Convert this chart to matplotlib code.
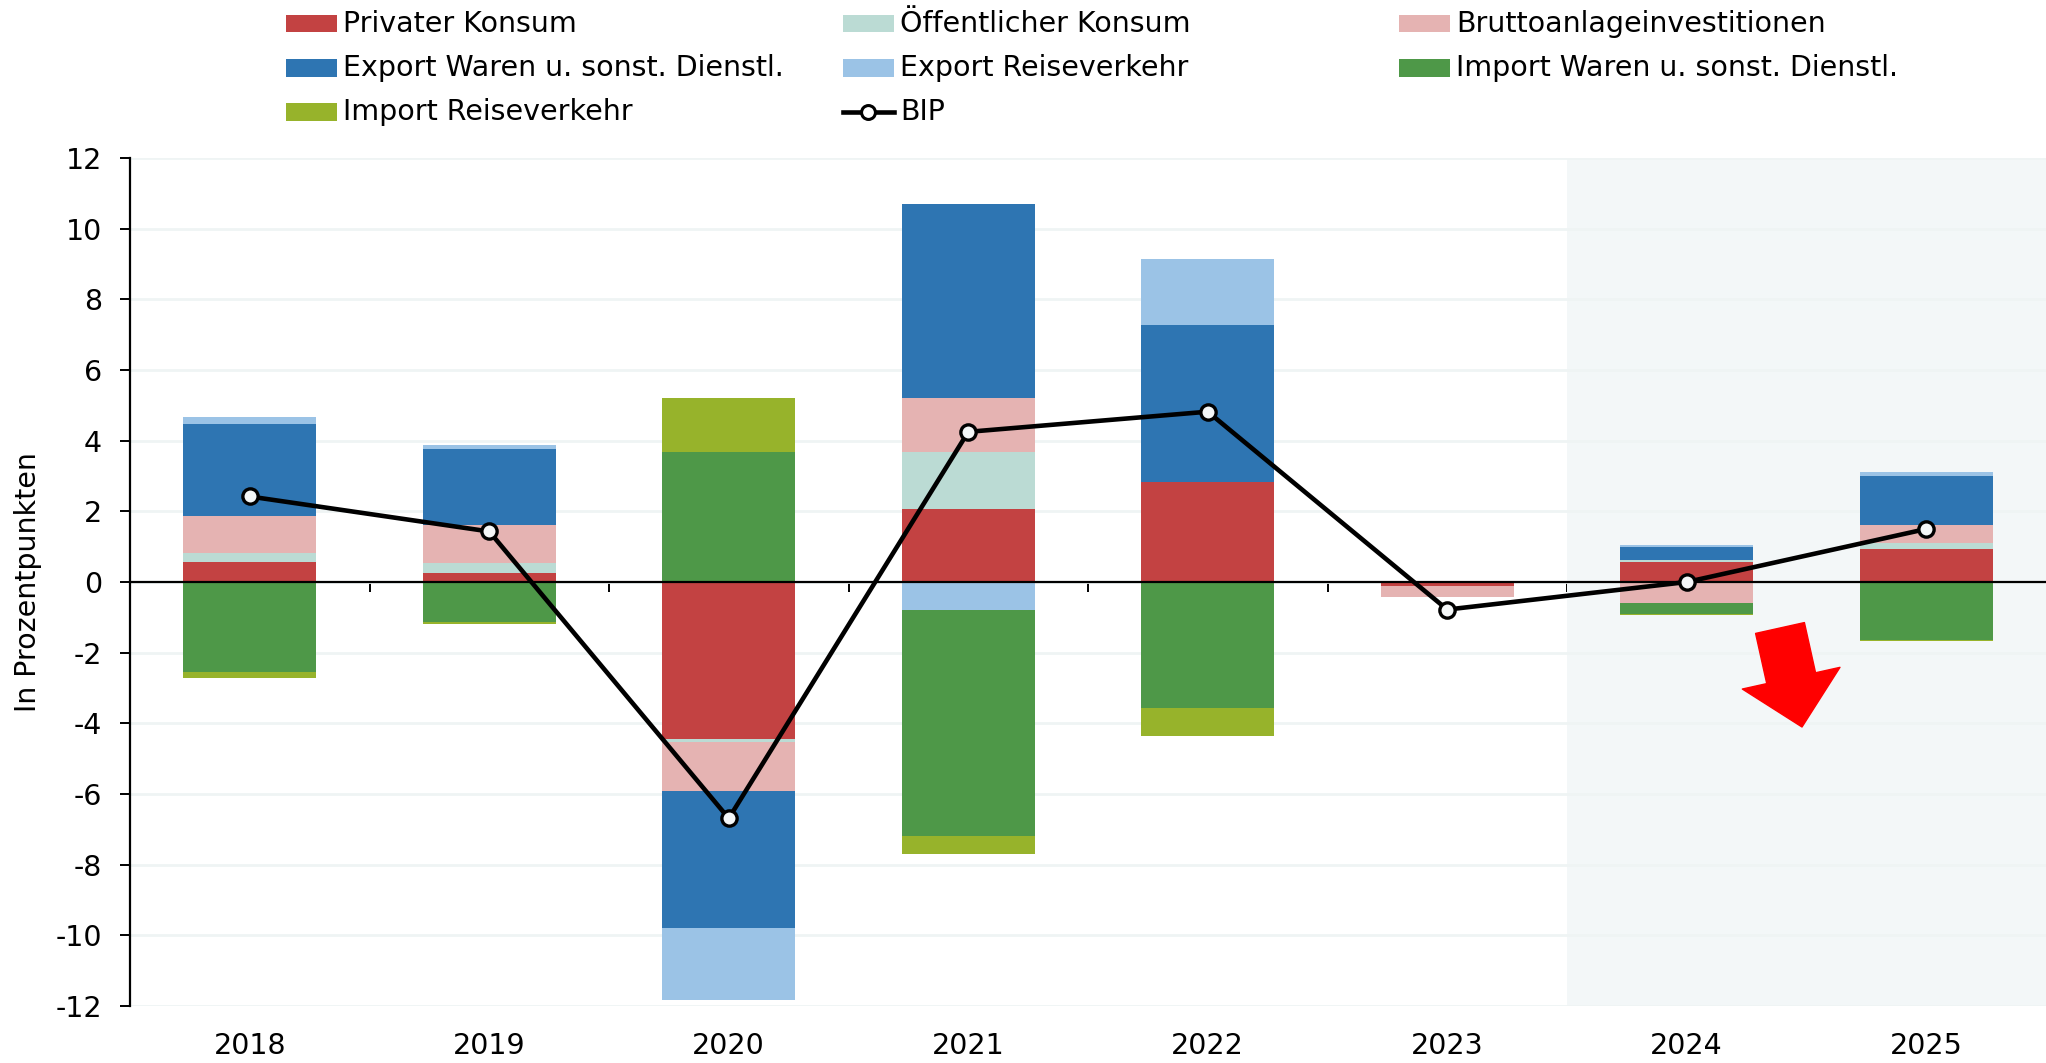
import numpy as np
import matplotlib.pyplot as plt
import matplotlib.patches as mpatches
from matplotlib.lines import Line2D

# === DATA (Wachstumsbeiträge in Prozentpunkten) ===
years = ["2018", "2019", "2020", "2021", "2022", "2023", "2024", "2025"]
privat = [0.58, 0.26, -4.45, 2.06, 2.84, -0.11, 0.56, 0.93]
oeffentlich = [0.24, 0.28, -0.08, 1.61, 0.0, 0.0, 0.07, 0.17]
brutto = [1.04, 1.08, -1.38, 1.53, 0.0, -0.32, -0.60, 0.51]
export_waren = [2.62, 2.15, -3.89, 5.49, 4.44, 0.0, 0.35, 1.40]
export_reise = [0.18, 0.10, -2.02, -0.79, 1.85, 0.0, 0.07, 0.11]
import_waren = [-2.55, -1.13, 3.67, -6.41, -3.56, 0.0, -0.30, -1.65]
import_reise = [-0.18, -0.06, 1.55, -0.51, -0.79, 0.0, -0.03, -0.02]
bip = [2.42, 1.43, -6.69, 4.25, 4.82, -0.78, 0.0, 1.50]

labels = ["Privater Konsum", "Öffentlicher Konsum", "Bruttoanlageinvestitionen",
          "Export Waren u. sonst. Dienstl.", "Export Reiseverkehr",
          "Import Waren u. sonst. Dienstl.", "Import Reiseverkehr"]
colors = ["#c34242", "#bbdbd4", "#e5b3b2", "#2e75b2", "#9bc3e6", "#4e9848", "#97b32b"]
series = [privat, oeffentlich, brutto, export_waren, export_reise, import_waren, import_reise]

forecast_start = 5.5   # Prognosebereich (2024, 2025)

# === STYLE ===
plt.rcParams['font.family'] = ['DejaVu Sans']
plt.rcParams['axes.unicode_minus'] = False
FS = 20.5

W, H = 2046, 1063
fig = plt.figure(figsize=(W / 100, H / 100), dpi=100)
ax = fig.add_axes([130 / W, 1 - 1006 / H, (W - 130) / W, (1006 - 158) / H])

x = np.arange(len(years))
pos_bottom = np.zeros(len(years))
neg_bottom = np.zeros(len(years))
for vals, c, lab in zip(series, colors, labels):
    v = np.array(vals)
    bottom = np.where(v >= 0, pos_bottom, neg_bottom)
    ax.bar(x, v, 0.555, bottom=bottom, color=c, label=lab, linewidth=0, zorder=2)
    pos_bottom += np.where(v >= 0, v, 0)
    neg_bottom += np.where(v < 0, v, 0)

ax.plot(x, bip, color="black", lw=3.3, marker="o", ms=11, mfc="#f4f7f8",
        mec="black", mew=2.4, zorder=6, label="BIP")

ax.axvspan(forecast_start, len(years) - 0.5, color="#f3f7f8", lw=0, zorder=0.2)
ax.axhline(0, color="black", lw=1.6, zorder=4)

# === AXES ===
ax.set_xlim(-0.5, len(years) - 0.5)
ax.set_ylim(-12, 12)
ax.set_yticks(np.arange(-12, 13, 2))
ax.yaxis.grid(True, color="#eff4f4", lw=2)
ax.set_axisbelow(True)
for s in ["top", "right", "bottom"]:
    ax.spines[s].set_visible(False)
ax.spines["left"].set_linewidth(1.6)
ax.tick_params(axis="y", length=7, width=1.4, pad=13, labelsize=FS)
ax.set_xticks(x)
ax.set_xticklabels(years)
ax.tick_params(axis="x", length=0, pad=19, labelsize=FS)
ax.set_ylabel("In Prozentpunkten", fontsize=FS)
ax.yaxis.set_label_coords(-0.046, 0.5)

# tick marks on the zero line between the categories
sec = ax.secondary_xaxis(0, transform=ax.transData)
sec.set_xticks(np.arange(len(years) + 1) - 0.5)
sec.set_xticklabels([])
sec.tick_params(length=7, width=1.4, direction="out")
sec.spines["bottom"].set_visible(False)

# === LEGEND (3 columns, row-wise like the original) ===
col_x = [286, 843, 1399]
row_y = [23.5, 68, 112]
for i, (c, lab) in enumerate(zip(colors + [None], labels + ["BIP"])):
    px = col_x[i % 3]
    py = row_y[i // 3]
    if c is None:
        fig.add_artist(Line2D([(px) / W, (px + 51) / W], [1 - py / H, 1 - py / H],
                              color="black", lw=3.3, transform=fig.transFigure))
        fig.add_artist(Line2D([(px + 25) / W], [1 - py / H], marker="o", ms=10,
                              mfc="white", mec="black", mew=2.2, transform=fig.transFigure))
    else:
        fig.add_artist(mpatches.Rectangle((px / W, 1 - (py + 8.5) / H), 51 / W, 17 / H,
                                          color=c, lw=0, transform=fig.transFigure))
    fig.text((px + 57) / W, 1 - py / H, lab, fontsize=FS, va="center", ha="left")

# === RED ARROW ===
ax.annotate("", xy=(1802, H - 727), xytext=(1780, H - 628),
            xycoords="figure pixels", textcoords="figure pixels",
            arrowprops=dict(arrowstyle="simple,head_length=1.0,head_width=2.0,tail_width=1.0",
                            mutation_scale=36, color="#ff0000", shrinkA=0, shrinkB=0))

fig.savefig("out.png", dpi=100)
